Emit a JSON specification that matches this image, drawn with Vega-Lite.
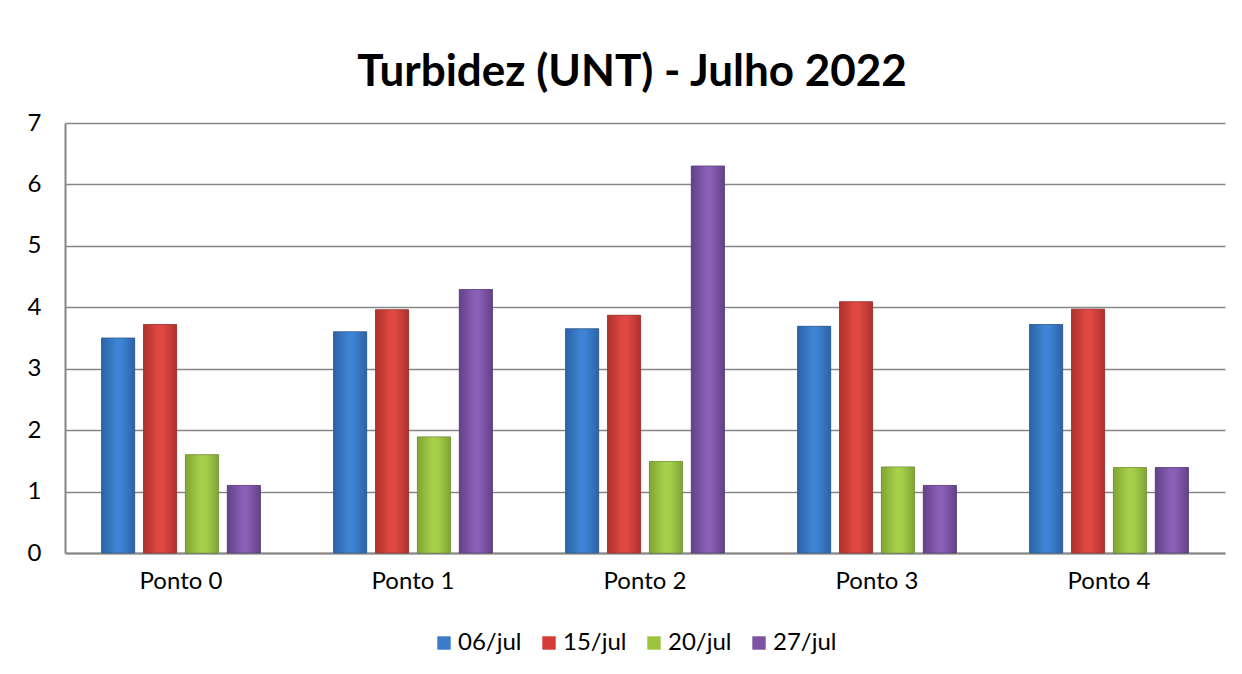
{
  "$schema": "https://vega.github.io/schema/vega-lite/v6.json",
  "width": 1160,
  "height": 430,
  "autosize": {"type": "none"},
  "padding": {"left": 65, "top": 123, "right": 17, "bottom": 121},
  "background": "white",
  "title": {
    "text": "Turbidez (UNT) - Julho 2022",
    "font": "Lato",
    "fontSize": 44,
    "fontWeight": "bold",
    "color": "#000000",
    "anchor": "middle",
    "frame": "group",
    "dx": -13,
    "offset": 16
  },
  "data": {
    "values": [
      {"ponto": "Ponto 0", "data": "06/jul", "valor": 3.5},
      {"ponto": "Ponto 0", "data": "15/jul", "valor": 3.72},
      {"ponto": "Ponto 0", "data": "20/jul", "valor": 1.6},
      {"ponto": "Ponto 0", "data": "27/jul", "valor": 1.1},
      {"ponto": "Ponto 1", "data": "06/jul", "valor": 3.6},
      {"ponto": "Ponto 1", "data": "15/jul", "valor": 3.96},
      {"ponto": "Ponto 1", "data": "20/jul", "valor": 1.89},
      {"ponto": "Ponto 1", "data": "27/jul", "valor": 4.29},
      {"ponto": "Ponto 2", "data": "06/jul", "valor": 3.65},
      {"ponto": "Ponto 2", "data": "15/jul", "valor": 3.87},
      {"ponto": "Ponto 2", "data": "20/jul", "valor": 1.49},
      {"ponto": "Ponto 2", "data": "27/jul", "valor": 6.3},
      {"ponto": "Ponto 3", "data": "06/jul", "valor": 3.69},
      {"ponto": "Ponto 3", "data": "15/jul", "valor": 4.09},
      {"ponto": "Ponto 3", "data": "20/jul", "valor": 1.4},
      {"ponto": "Ponto 3", "data": "27/jul", "valor": 1.1},
      {"ponto": "Ponto 4", "data": "06/jul", "valor": 3.72},
      {"ponto": "Ponto 4", "data": "15/jul", "valor": 3.97},
      {"ponto": "Ponto 4", "data": "20/jul", "valor": 1.39},
      {"ponto": "Ponto 4", "data": "27/jul", "valor": 1.39}
    ]
  },
  "encoding": {
    "x": {
      "field": "ponto",
      "type": "nominal",
      "title": null,
      "scale": {"paddingInner": 0.315, "paddingOuter": 0.1575},
      "axis": {
        "labelAngle": 0,
        "labelFont": "Lato",
        "labelFontSize": 24,
        "labelColor": "#000000",
        "labelPadding": 16,
        "ticks": false,
        "domainColor": "#868686",
        "domainWidth": 2,
        "grid": false
      }
    },
    "xOffset": {
      "field": "data",
      "type": "nominal",
      "scale": {"domain": ["06/jul", "15/jul", "20/jul", "27/jul"], "paddingInner": 0.21, "paddingOuter": 0}
    },
    "y": {
      "field": "valor",
      "type": "quantitative",
      "title": null,
      "scale": {"domain": [0, 7], "nice": false},
      "axis": {
        "values": [0, 1, 2, 3, 4, 5, 6, 7],
        "labelFont": "Lato",
        "labelFontSize": 24,
        "labelColor": "#000000",
        "labelPadding": 24,
        "ticks": false,
        "domainColor": "#868686",
        "domainWidth": 2,
        "gridColor": "#868686",
        "gridWidth": 1.5
      }
    }
  },
  "layer": [
    {
      "mark": {"type": "bar", "stroke": "#5a5a5a", "strokeOpacity": 0.35, "strokeWidth": 1},
      "encoding": {
        "color": {
          "field": "data",
          "type": "nominal",
          "title": null,
          "scale": {
            "domain": ["06/jul", "15/jul", "20/jul", "27/jul"],
            "range": ["#3a7cc8", "#d63c37", "#9cc43c", "#7d52a3"]
          },
          "legend": {
            "orient": "none",
            "legendX": 367,
            "legendY": 508,
            "direction": "horizontal",
            "symbolType": "square",
            "symbolSize": 180,
            "symbolStrokeWidth": 0,
            "labelFont": "Lato",
            "labelFontSize": 24,
            "labelColor": "#000000",
            "labelOffset": 2,
            "columnPadding": 15
          }
        }
      }
    },
    {
      "transform": [{"filter": "datum.data === '06/jul'"}],
      "mark": {
        "type": "bar",
        "stroke": "#2a5a94",
        "strokeOpacity": 0.6,
        "strokeWidth": 1,
        "color": {"gradient": "linear", "x1": 0, "y1": 0, "x2": 1, "y2": 0,
          "stops": [{"offset": 0, "color": "#2c62a6"}, {"offset": 0.45, "color": "#3f84d4"}, {"offset": 0.6, "color": "#3f84d4"}, {"offset": 1, "color": "#2c62a6"}]}
      }
    },
    {
      "transform": [{"filter": "datum.data === '15/jul'"}],
      "mark": {
        "type": "bar",
        "stroke": "#98302c",
        "strokeOpacity": 0.6,
        "strokeWidth": 1,
        "color": {"gradient": "linear", "x1": 0, "y1": 0, "x2": 1, "y2": 0,
          "stops": [{"offset": 0, "color": "#b0302c"}, {"offset": 0.45, "color": "#df4842"}, {"offset": 0.6, "color": "#df4842"}, {"offset": 1, "color": "#b0302c"}]}
      }
    },
    {
      "transform": [{"filter": "datum.data === '20/jul'"}],
      "mark": {
        "type": "bar",
        "stroke": "#6e9030",
        "strokeOpacity": 0.6,
        "strokeWidth": 1,
        "color": {"gradient": "linear", "x1": 0, "y1": 0, "x2": 1, "y2": 0,
          "stops": [{"offset": 0, "color": "#80a434"}, {"offset": 0.45, "color": "#a6d04a"}, {"offset": 0.6, "color": "#a6d04a"}, {"offset": 1, "color": "#80a434"}]}
      }
    },
    {
      "transform": [{"filter": "datum.data === '27/jul'"}],
      "mark": {
        "type": "bar",
        "stroke": "#553878",
        "strokeOpacity": 0.6,
        "strokeWidth": 1,
        "color": {"gradient": "linear", "x1": 0, "y1": 0, "x2": 1, "y2": 0,
          "stops": [{"offset": 0, "color": "#634287"}, {"offset": 0.45, "color": "#8a5fb6"}, {"offset": 0.6, "color": "#8a5fb6"}, {"offset": 1, "color": "#634287"}]}
      }
    }
  ],
  "config": {
    "view": {"stroke": null}
  }
}
